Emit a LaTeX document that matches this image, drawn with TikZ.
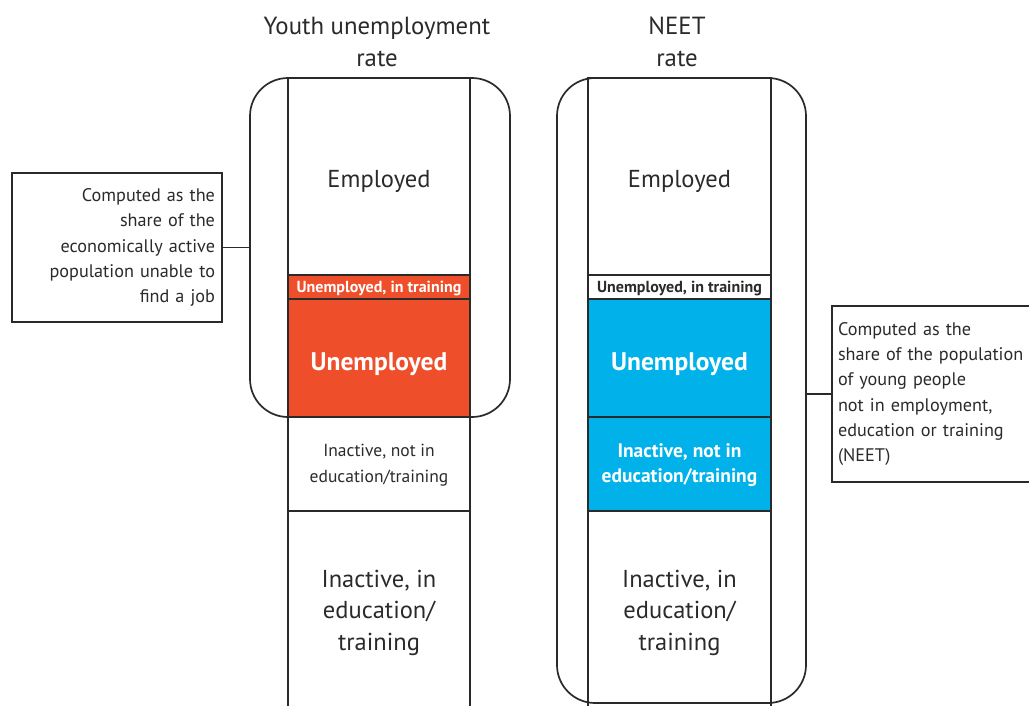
\documentclass[tikz,border=0pt]{standalone}
\usepackage{fontspec}
\setmainfont{PT Sans}
\definecolor{ilored}{HTML}{EF4E2B}
\definecolor{iloblue}{HTML}{00B2E9}
\definecolor{inkgray}{HTML}{2A2A2A}
\tikzset{
    cell/.style={draw=inkgray, line width=1.7pt, inner sep=0pt},
    txt/.style={inner sep=0pt, align=center, text=inkgray},
    big/.style={font=\fontsize{24.5}{31.5}\selectfont},
    bigbold/.style={font=\fontsize{25.5}{30}\selectfont\bfseries, text=white},
    small/.style={font=\fontsize{16}{18}\selectfont\bfseries},
    mid/.style={font=\fontsize{17.5}{25.5}\selectfont},
    frame/.style={draw=inkgray, line width=1.7pt, rounded corners=38pt, inner sep=0pt},
    note/.style={draw=inkgray, line width=1.7pt, inner sep=0pt, text=inkgray,
        font=\fontsize{18.2}{25.3}\selectfont},
}
\begin{document}
\begin{tikzpicture}[x=1pt, y=-1pt]
    \useasboundingbox (0,0) rectangle (1029,705);

    % titles
    \node[txt, font=\fontsize{24.8}{32}\selectfont] (title1) at (377,42) {Youth unemployment\\rate};
    \node[txt, font=\fontsize{24.8}{32}\selectfont] (title2) at (677,42) {NEET\\rate};

    % rounded frames
    \node[frame, minimum width=260pt, minimum height=339pt] (frame1) at (380,247.5) {};
    \node[frame, minimum width=249pt, minimum height=625pt] (frame2) at (681.5,390.5) {};

    % youth unemployment column
    \node[cell, minimum width=182pt, minimum height=197pt] (emp1) at (379,176.5) {};
    \node[cell, fill=ilored, minimum width=182pt, minimum height=24pt] (uit1) at (379,287) {};
    \node[cell, fill=ilored, minimum width=182pt, minimum height=118pt] (une1) at (379,358) {};
    \node[cell, minimum width=182pt, minimum height=94pt] (ina1) at (379,464) {};
    \node[cell, minimum width=182pt, minimum height=201pt] (ied1) at (379,611.5) {};

    \node[txt, big] at ([yshift=-5pt]emp1.center) {Employed};
    \node[txt, small, text=white] at ([yshift=-2pt]uit1.center) {Unemployed, in training};
    \node[txt, bigbold] at ([yshift=-6pt]une1.center) {Unemployed};
    \node[txt, mid] at ([yshift=-1pt]ina1.center) {Inactive, not in\\education/training};
    \node[txt, big] at ([yshift=-1pt]ied1.center) {Inactive, in\\education/\\training};

    % NEET column
    \node[cell, minimum width=183pt, minimum height=197pt] (emp2) at (679.5,176.5) {};
    \node[cell, minimum width=183pt, minimum height=24pt] (uit2) at (679.5,287) {};
    \node[cell, fill=iloblue, minimum width=183pt, minimum height=118pt] (une2) at (679.5,358) {};
    \node[cell, fill=iloblue, minimum width=183pt, minimum height=94pt] (ina2) at (679.5,464) {};
    \node[cell, minimum width=183pt, minimum height=201pt] (ied2) at (679.5,611.5) {};

    \node[txt, big] at ([yshift=-5pt]emp2.center) {Employed};
    \node[txt, small] at ([yshift=-2pt]uit2.center) {Unemployed, in training};
    \node[txt, bigbold] at ([yshift=-6pt]une2.center) {Unemployed};
    \node[txt, mid, text=white, font=\fontsize{19.5}{25.5}\selectfont\bfseries] at ([yshift=-1pt]ina2.center) {Inactive, not in\\education/training};
    \node[txt, big] at ([yshift=-1pt]ied2.center) {Inactive, in\\education/\\training};

    % notes
    \node[note, align=right, minimum width=210pt, minimum height=149pt, text width=196pt] (note1) at (117,247.5)
        {Computed as the\\share of the\\economically active\\population unable to\\find a job};
    \node[note, align=left, minimum width=204pt, minimum height=176pt, text width=192pt] (note2) at (934,394)
        {Computed as the\\share of the population\\of young people\\not in employment,\\education or training\\(NEET)};

    \draw[inkgray, line width=1.7pt] (note1.east) -- (frame1.west |- note1.east);
    \draw[inkgray, line width=1.7pt] (frame2.east |- note2.west) -- (note2.west);
\end{tikzpicture}
\end{document}
